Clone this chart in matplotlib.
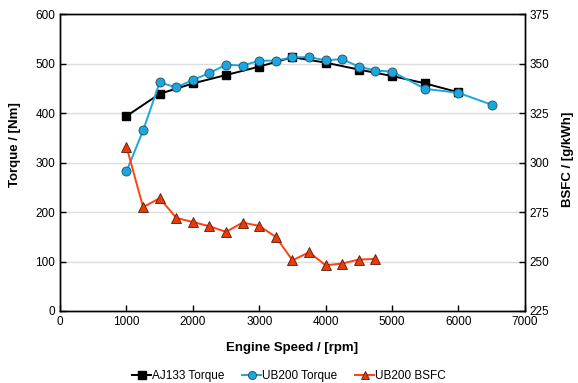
import matplotlib
matplotlib.use("Agg")
import matplotlib.pyplot as plt

plt.rcParams['font.family'] = ['Liberation Sans', 'DejaVu Sans']

# AJ133 torque
aj_rpm = [1000, 1500, 2000, 2500, 3000, 3500, 4000, 4500, 5000, 5500, 6000]
aj_torque = [394, 439, 460, 477, 494, 513, 502, 488, 475, 460, 442]

# UB200 torque
ub_rpm = [1000, 1250, 1500, 1750, 2000, 2250, 2500, 2750, 3000, 3250, 3500,
          3750, 4000, 4250, 4500, 4750, 5000, 5500, 6000, 6500]
ub_torque = [282, 365, 462, 452, 467, 481, 498, 496, 506, 506, 513,
             513, 507, 509, 494, 486, 484, 449, 441, 417]

# UB200 BSFC
bsfc_rpm = [1000, 1250, 1500, 1750, 2000, 2250, 2500, 2750, 3000, 3250,
            3500, 3750, 4000, 4250, 4500, 4750]
bsfc = [308, 277.5, 282, 272, 270, 267.8, 265, 269.7, 268, 262.4,
        250.6, 254.7, 248.1, 249, 251, 251.3]

my_dpi = 100
fig, ax = plt.subplots(figsize=(578/my_dpi, 383/my_dpi), dpi=my_dpi)
plt.subplots_adjust(left=0.104, right=0.908, top=0.963, bottom=0.188)
ax2 = ax.twinx()

l1, = ax.plot(aj_rpm, aj_torque, color='black', lw=1.4, marker='s', ms=6,
              mfc='black', mec='black', label='AJ133 Torque', zorder=3)
l2, = ax.plot(ub_rpm, ub_torque, color='#1AA7E0', lw=1.4, marker='o', ms=6.5,
              mfc='#1AA7E0', mec='#2a4a5a', mew=0.6, label='UB200 Torque', zorder=4)
l3, = ax2.plot(bsfc_rpm, bsfc, color='#FF4010', lw=1.4, marker='^', ms=6.5,
               mfc='#E83A0A', mec='#5a1a0a', mew=0.6, label='UB200 BSFC', zorder=3)

ax.set_xlim(0, 7000)
ax.set_ylim(0, 600)
ax2.set_ylim(225, 375)
ax.set_xticks(range(0, 7001, 1000))
ax.set_yticks(range(0, 601, 100))
ax2.set_yticks(range(225, 376, 25))
ax.yaxis.grid(True, color='#dddddd', lw=1)
ax.set_axisbelow(True)

for a in (ax, ax2):
    a.tick_params(direction='in', length=4, width=1, labelsize=8.5, colors='black')
    for s in a.spines.values():
        s.set_linewidth(1)
        s.set_color('black')

ax.set_xlabel('Engine Speed / [rpm]', fontsize=9.5, fontweight='bold', labelpad=10)
ax.set_ylabel('Torque / [Nm]', fontsize=9.5, fontweight='bold')
ax.yaxis.set_label_coords(-0.085, 0.56)
ax2.set_ylabel('BSFC / [g/kWh]', fontsize=9.5, fontweight='bold', rotation=90,
               va='center')
ax2.yaxis.set_label_coords(1.092, 0.51)

fig.legend(handles=[l1, l2, l3], loc='lower center', ncol=3, frameon=False,
           fontsize=8.5, bbox_to_anchor=(0.5, -0.025), handlelength=1.6,
           handletextpad=0.1, columnspacing=1.5, markerscale=0.9)

plt.savefig('out.png', dpi=my_dpi)
